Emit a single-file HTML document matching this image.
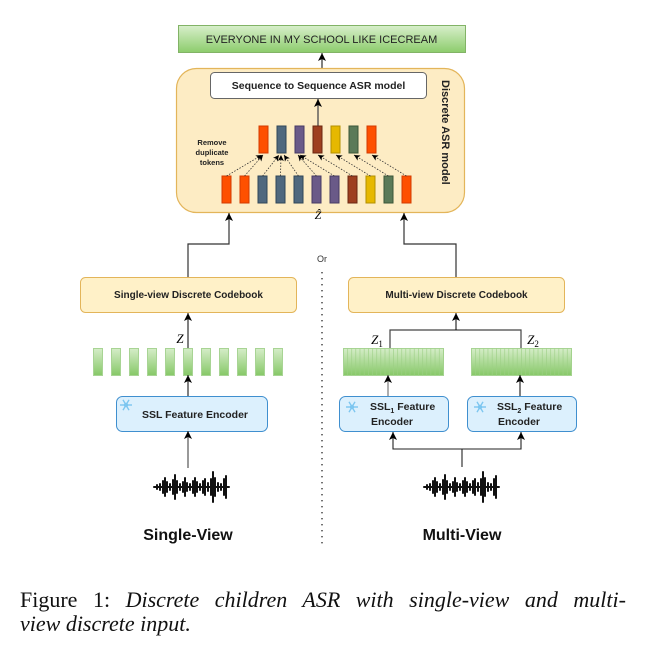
<!DOCTYPE html>
<html><head><meta charset="utf-8"><style>
html,body{margin:0;padding:0;background:#fff;}
svg{display:block;}
</style></head><body>
<svg width="661" height="646" viewBox="0 0 661 646" xmlns="http://www.w3.org/2000/svg" font-family="Liberation Sans, sans-serif">
<defs>
<linearGradient id="gg" x1="0" y1="0" x2="0" y2="1"><stop offset="0" stop-color="#d8efcb"/><stop offset="1" stop-color="#8ccc6c"/></linearGradient>
<linearGradient id="gb" x1="0" y1="0" x2="0" y2="1"><stop offset="0" stop-color="#d5edc8"/><stop offset="1" stop-color="#86c867"/></linearGradient>
<pattern id="st" x="343" y="0" width="4.17" height="10" patternUnits="userSpaceOnUse"><line x1="0.3" y1="0" x2="0.3" y2="10" stroke="#9ccf84" stroke-width="0.6"/></pattern>
<pattern id="st2" x="471" y="0" width="4.17" height="10" patternUnits="userSpaceOnUse"><line x1="0.3" y1="0" x2="0.3" y2="10" stroke="#9ccf84" stroke-width="0.6"/></pattern>
<marker id="ar" markerWidth="9" markerHeight="9" refX="8" refY="4" orient="auto" markerUnits="userSpaceOnUse" viewBox="0 0 9 8"><path d="M0,0 L8,4 L0,8 L2,4 Z" fill="#000"/></marker>
<marker id="ar2" markerWidth="7" markerHeight="7" refX="6" refY="3.5" orient="auto" markerUnits="userSpaceOnUse" viewBox="0 0 7 7"><path d="M0,0.5 L6,3.5 L0,6.5 L1.5,3.5 Z" fill="#000"/></marker>
<g id="wave" stroke="#111" stroke-width="2" stroke-linecap="round">
<line x1="0" y1="0" x2="75" y2="0" stroke-width="2"/>
<line x1="3" y1="-2" x2="3" y2="2"/><line x1="6" y1="-3" x2="6" y2="3"/><line x1="9" y1="-6" x2="9" y2="6"/><line x1="11" y1="-9" x2="11" y2="9"/><line x1="13" y1="-5" x2="13" y2="5"/><line x1="16" y1="-3" x2="16" y2="3"/><line x1="19" y1="-7" x2="19" y2="7"/><line x1="21" y1="-12" x2="21" y2="12"/><line x1="23" y1="-6" x2="23" y2="6"/><line x1="26" y1="-3" x2="26" y2="3"/><line x1="29" y1="-5" x2="29" y2="5"/><line x1="31" y1="-9" x2="31" y2="9"/><line x1="33" y1="-4" x2="33" y2="4"/><line x1="36" y1="-3" x2="36" y2="3"/><line x1="39" y1="-6" x2="39" y2="6"/><line x1="41" y1="-9" x2="41" y2="9"/><line x1="43" y1="-5" x2="43" y2="5"/><line x1="46" y1="-3" x2="46" y2="3"/><line x1="49" y1="-6" x2="49" y2="6"/><line x1="51" y1="-8" x2="51" y2="8"/><line x1="54" y1="-4" x2="54" y2="4"/><line x1="57" y1="-8" x2="57" y2="8"/><line x1="59" y1="-15" x2="59" y2="15"/><line x1="61" y1="-9" x2="61" y2="9"/><line x1="64" y1="-4" x2="64" y2="4"/><line x1="67" y1="-3" x2="67" y2="3"/><line x1="70" y1="-8" x2="70" y2="8"/><line x1="72" y1="-11" x2="72" y2="11"/>
</g>
<g id="flake" stroke="#7cc6f0" stroke-width="1.4" fill="none"><line x1="-6" y1="0" x2="6" y2="0"/><line x1="-3" y1="-5.2" x2="3" y2="5.2"/><line x1="3" y1="-5.2" x2="-3" y2="5.2"/><circle r="1.5"/></g>
</defs>

<rect x="178.5" y="25.5" width="287" height="27" fill="url(#gg)" stroke="#82b366"/>
<text x="321.5" y="43" font-size="11" text-anchor="middle" fill="#222">EVERYONE IN MY SCHOOL LIKE ICECREAM</text>
<line x1="322" y1="68" x2="322" y2="53" stroke="#000" stroke-width="1" marker-end="url(#ar)"/>

<rect x="176.5" y="68.5" width="288" height="144" rx="20" fill="#fdecc4" stroke="#e3b55a" stroke-width="1.2"/>
<rect x="210.5" y="72.5" width="216" height="26" rx="4" fill="#fff" stroke="#666"/>
<text x="318.5" y="89" font-size="10.5" font-weight="bold" text-anchor="middle" fill="#222">Sequence to Sequence ASR model</text>
<line x1="318" y1="126" x2="318" y2="99" stroke="#555" stroke-width="1.4" marker-end="url(#ar)"/>
<text transform="translate(442,80) rotate(90)" font-size="11" font-weight="bold" fill="#222">Discrete ASR model</text>
<text font-size="7.5" font-weight="bold" fill="#222" text-anchor="middle"><tspan x="212" y="145">Remove</tspan><tspan x="212" y="155">duplicate</tspan><tspan x="212" y="165">tokens</tspan></text>

<g stroke-width="1">
<rect x="259" y="126" width="9" height="27" fill="#fe5000" stroke="#d33a00"/>
<rect x="277" y="126" width="9" height="27" fill="#4f687e" stroke="#2f4658"/>
<rect x="295" y="126" width="9" height="27" fill="#6a5a88" stroke="#463a63"/>
<rect x="313" y="126" width="9" height="27" fill="#9e3f1f" stroke="#6b2610"/>
<rect x="331" y="126" width="9" height="27" fill="#e6b800" stroke="#b38f00"/>
<rect x="349" y="126" width="9" height="27" fill="#5b7a58" stroke="#3b5639"/>
<rect x="367" y="126" width="9" height="27" fill="#fe5000" stroke="#d33a00"/>
</g>
<g stroke-width="1">
<rect x="222" y="176" width="9" height="27" fill="#fe5000" stroke="#d33a00"/>
<rect x="240" y="176" width="9" height="27" fill="#fe5000" stroke="#d33a00"/>
<rect x="258" y="176" width="9" height="27" fill="#4f687e" stroke="#2f4658"/>
<rect x="276" y="176" width="9" height="27" fill="#4f687e" stroke="#2f4658"/>
<rect x="294" y="176" width="9" height="27" fill="#4f687e" stroke="#2f4658"/>
<rect x="312" y="176" width="9" height="27" fill="#6a5a88" stroke="#463a63"/>
<rect x="330" y="176" width="9" height="27" fill="#6a5a88" stroke="#463a63"/>
<rect x="348" y="176" width="9" height="27" fill="#9e3f1f" stroke="#6b2610"/>
<rect x="366" y="176" width="9" height="27" fill="#e6b800" stroke="#b38f00"/>
<rect x="384" y="176" width="9" height="27" fill="#5b7a58" stroke="#3b5639"/>
<rect x="402" y="176" width="9" height="27" fill="#fe5000" stroke="#d33a00"/>
</g>
<g stroke="#333" stroke-width="0.8" stroke-dasharray="1.5,1.5" marker-end="url(#ar2)" fill="none">
<line x1="226.5" y1="176" x2="262" y2="155"/>
<line x1="244.5" y1="176" x2="263" y2="155"/>
<line x1="262.5" y1="176" x2="279" y2="155"/>
<line x1="280.5" y1="176" x2="281" y2="155"/>
<line x1="298.5" y1="176" x2="284" y2="155"/>
<line x1="316.5" y1="176" x2="298" y2="155"/>
<line x1="334.5" y1="176" x2="300" y2="155"/>
<line x1="352.5" y1="176" x2="318" y2="155"/>
<line x1="370.5" y1="176" x2="336" y2="155"/>
<line x1="388.5" y1="176" x2="354" y2="155"/>
<line x1="406.5" y1="176" x2="372" y2="155"/>
</g>
<text x="318" y="219" font-size="12" font-style="italic" font-family="Liberation Serif, serif" text-anchor="middle">Ẑ</text>

<path d="M188,277 V244 H229 V213" fill="none" stroke="#333" stroke-width="1.2" marker-end="url(#ar)"/>
<path d="M456,277 V244 H404 V213" fill="none" stroke="#333" stroke-width="1.2" marker-end="url(#ar)"/>
<text x="322" y="262" font-size="9" text-anchor="middle" fill="#333">Or</text>
<line x1="322" y1="272" x2="322" y2="548" stroke="#444" stroke-width="1.5" stroke-dasharray="1.4,4.6"/>

<rect x="80.5" y="277.5" width="216" height="35" rx="5" fill="#fff1c8" stroke="#e3b55a"/>
<text x="188.5" y="298" font-size="10" font-weight="bold" text-anchor="middle" fill="#222">Single-view Discrete Codebook</text>
<rect x="348.5" y="277.5" width="216" height="35" rx="5" fill="#fff1c8" stroke="#e3b55a"/>
<text x="456.5" y="298" font-size="10" font-weight="bold" text-anchor="middle" fill="#222">Multi-view Discrete Codebook</text>

<line x1="188" y1="348" x2="188" y2="313" stroke="#000" marker-end="url(#ar)"/>
<text x="180" y="343" font-size="13" font-style="italic" font-family="Liberation Serif, serif" text-anchor="middle">Z</text>
<g fill="url(#gb)" stroke="#a8d494">
<rect x="93.5" y="348.5" width="9" height="27"/><rect x="111.5" y="348.5" width="9" height="27"/><rect x="129.5" y="348.5" width="9" height="27"/><rect x="147.5" y="348.5" width="9" height="27"/><rect x="165.5" y="348.5" width="9" height="27"/><rect x="183.5" y="348.5" width="9" height="27"/><rect x="201.5" y="348.5" width="9" height="27"/><rect x="219.5" y="348.5" width="9" height="27"/><rect x="237.5" y="348.5" width="9" height="27"/><rect x="255.5" y="348.5" width="9" height="27"/><rect x="273.5" y="348.5" width="9" height="27"/>
</g>
<line x1="188" y1="396" x2="188" y2="375" stroke="#000" marker-end="url(#ar)"/>
<rect x="116.5" y="396.5" width="151" height="35" rx="6" fill="#dcf0fd" stroke="#3f8fcf"/>
<use href="#flake" x="126" y="405"/>
<text x="195" y="418" font-size="10.5" font-weight="bold" text-anchor="middle" fill="#222">SSL Feature Encoder</text>
<line x1="188" y1="468" x2="188" y2="431" stroke="#555" stroke-width="1.2" marker-end="url(#ar)"/>
<use href="#wave" x="154" y="487"/>
<text x="188" y="540" font-size="16" font-weight="bold" text-anchor="middle" fill="#111">Single-View</text>

<path d="M390,348 V330 H521 V348" fill="none" stroke="#444" stroke-width="1.2"/>
<line x1="456" y1="330" x2="456" y2="313" stroke="#000" marker-end="url(#ar)"/>
<text x="377" y="344" font-size="13" font-style="italic" font-family="Liberation Serif, serif" text-anchor="middle">Z<tspan font-size="9" dy="3" font-style="normal">1</tspan></text>
<text x="533" y="344" font-size="13" font-style="italic" font-family="Liberation Serif, serif" text-anchor="middle">Z<tspan font-size="9" dy="3" font-style="normal">2</tspan></text>
<rect x="343.5" y="348.5" width="100" height="27" fill="url(#gb)" stroke="#a8d494"/>
<rect x="343.5" y="348.5" width="100" height="27" fill="url(#st)"/>
<rect x="471.5" y="348.5" width="100" height="27" fill="url(#gb)" stroke="#a8d494"/>
<rect x="471.5" y="348.5" width="100" height="27" fill="url(#st2)"/>
<line x1="388" y1="396" x2="388" y2="375" stroke="#777" stroke-width="1.2" marker-end="url(#ar)"/>
<line x1="520" y1="396" x2="520" y2="375" stroke="#000" marker-end="url(#ar)"/>
<rect x="339.5" y="396.5" width="109" height="35" rx="6" fill="#dcf0fd" stroke="#3f8fcf"/>
<rect x="467.5" y="396.5" width="109" height="35" rx="6" fill="#dcf0fd" stroke="#3f8fcf"/>
<use href="#flake" x="352" y="407"/>
<use href="#flake" x="480" y="407"/>
<text font-size="10.5" font-weight="bold" fill="#222"><tspan x="370" y="410">SSL<tspan font-size="7" dy="3">1</tspan><tspan dy="-3"> Feature</tspan></tspan><tspan x="371" y="425">Encoder</tspan></text>
<text font-size="10.5" font-weight="bold" fill="#222"><tspan x="497" y="410">SSL<tspan font-size="7" dy="3">2</tspan><tspan dy="-3"> Feature</tspan></tspan><tspan x="498" y="425">Encoder</tspan></text>
<path d="M462,467 V449 H393 V432" fill="none" stroke="#222" stroke-width="1.1" marker-end="url(#ar)"/>
<path d="M462,449 H521 V432" fill="none" stroke="#222" stroke-width="1.1" marker-end="url(#ar)"/>
<use href="#wave" x="424" y="487"/>
<text x="462" y="540" font-size="16" font-weight="bold" text-anchor="middle" fill="#111">Multi-View</text>

<text x="20" y="607" font-size="22" font-family="Liberation Serif, serif" fill="#111" word-spacing="10">Figure 1:  <tspan font-style="italic">Discrete children ASR with single-view and multi-</tspan></text>
<text x="20" y="631" font-size="22" font-family="Liberation Serif, serif" font-style="italic" fill="#111">view discrete input.</text>
</svg>
</body></html>
